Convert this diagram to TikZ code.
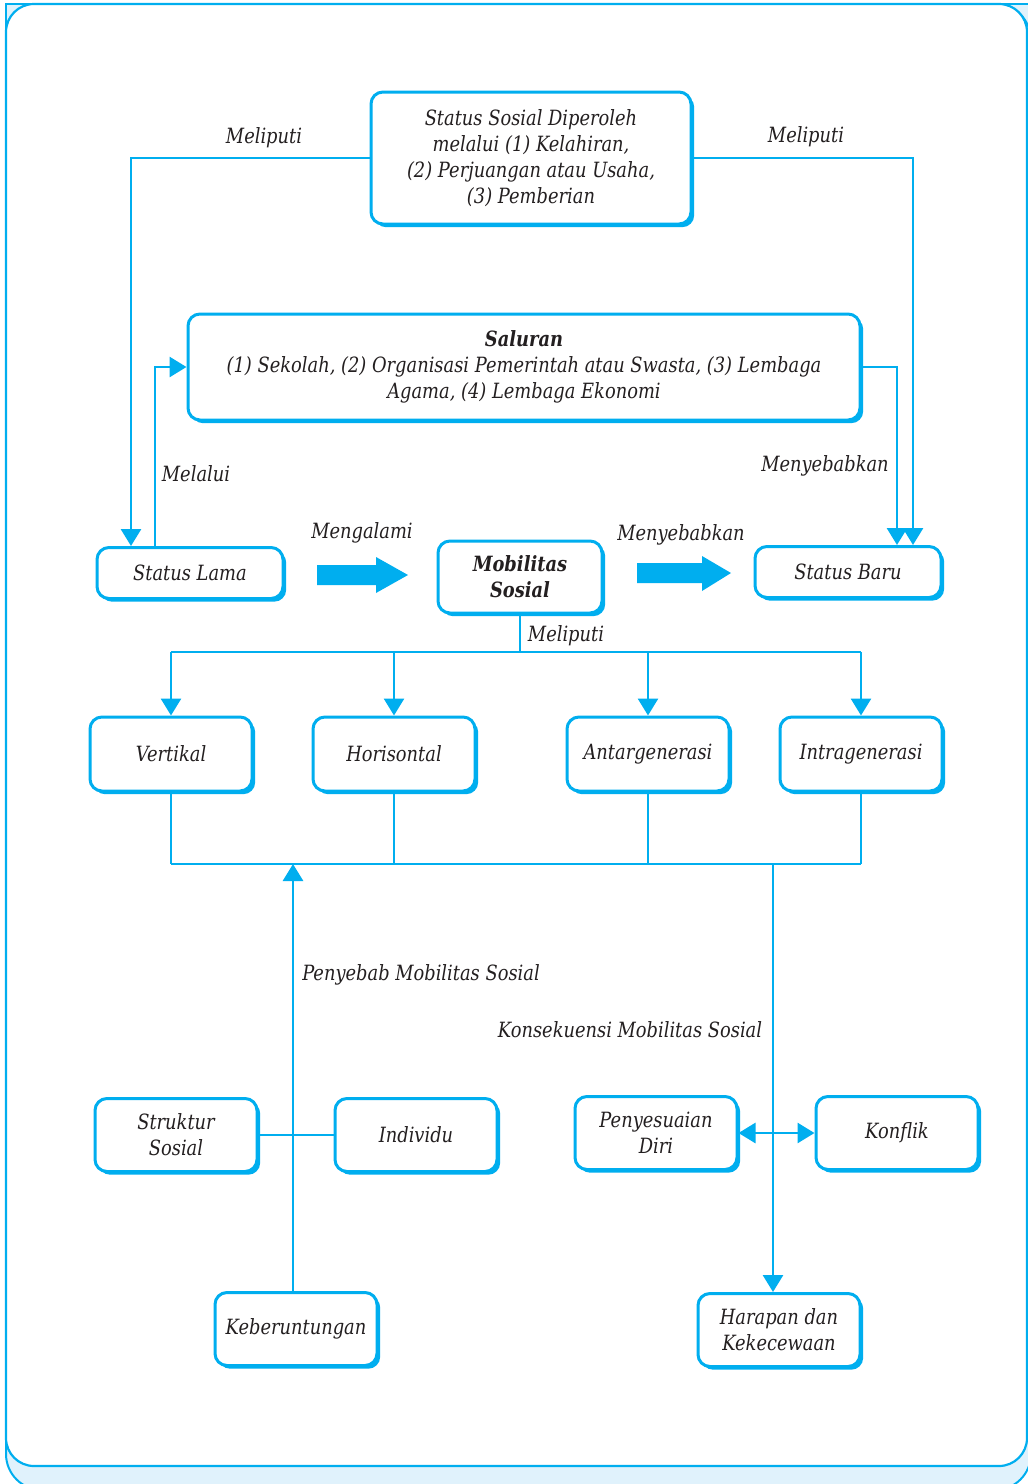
\documentclass[tikz,border=0pt]{standalone}
\usepackage{fontspec}
\setmainfont{DejaVu Serif}[FakeStretch=0.85]
\usetikzlibrary{shadows,arrows.meta}
\definecolor{sky}{RGB}{0,174,239}
\definecolor{lightsky}{RGB}{224,242,252}
\definecolor{ink}{RGB}{35,31,32}
\begin{document}
\begin{tikzpicture}[x=0.5pt,y=-0.5pt,
  txt/.style={font=\itshape\fontsize{10.5}{12.9}\selectfont, text=ink},
  box/.style={txt, draw=sky, line width=1.5pt, rounded corners=6pt, fill=white, align=center, inner sep=0pt,
     general shadow={fill=sky, shadow xshift=1.6pt, shadow yshift=-1.6pt}},
  conn/.style={draw=sky, line width=1.4pt},
  arr/.style={-{Triangle[width=10pt,length=8.5pt]}},
  dbl/.style={{Triangle[width=10pt,length=8.5pt]}-{Triangle[width=10pt,length=8.5pt]}},
  lbl/.style={txt, inner sep=0pt}
]
\useasboundingbox (0,0) rectangle (1028,1484);
% frame
\fill[lightsky] (6,4) rectangle (1031,1200);
\draw[sky, line width=1pt, fill=lightsky, rounded corners=18pt] (6,4) rectangle (1031,1490);
\fill[lightsky] (7,5) rectangle (60,60);
\draw[sky, line width=1pt] (6,1200) -- (6,4) -- (1031,4);
\draw[sky, line width=1.1pt, fill=white, rounded corners=14pt] (6,4) rectangle (1027,1466);

% nodes
\node[box, minimum width=160pt, minimum height=66pt] (src) at (531,158)
  {Status Sosial Diperoleh\\ melalui (1) Kelahiran,\\ (2) Perjuangan atau Usaha,\\ (3) Pemberian};
\node[box, minimum width=336pt, minimum height=53pt] (sal) at (524,367)
  {\textbf{Saluran}\\ (1) Sekolah, (2) Organisasi Pemerintah atau Swasta, (3) Lembaga\\ Agama, (4) Lembaga Ekonomi};
\node[box, minimum width=93pt, minimum height=25.5pt] (lama) at (190,573) {Status Lama};
\node[box, minimum width=82pt, minimum height=36pt, font=\bfseries\itshape\fontsize{10.5}{12.9}\selectfont] (mob) at (520,577) {Mobilitas\\ Sosial};
\node[box, minimum width=93pt, minimum height=25.5pt] (baru) at (848,572) {Status Baru};

\node[box, minimum width=81pt, minimum height=37pt] (vert) at (171,754) {Vertikal};
\node[box, minimum width=81pt, minimum height=37pt] (hor) at (394,754) {Horisontal};
\node[box, minimum width=81pt, minimum height=37pt] (ant) at (648,754) {Antargenerasi};
\node[box, minimum width=81pt, minimum height=37pt] (intra) at (861,754) {Intragenerasi};

\node[box, minimum width=81pt, minimum height=36.5pt] (str) at (176,1135) {Struktur\\ Sosial};
\node[box, minimum width=81pt, minimum height=36.5pt] (ind) at (416,1135) {Individu};
\node[box, minimum width=81pt, minimum height=36.5pt] (pen) at (656,1133) {Penyesuaian\\ Diri};
\node[box, minimum width=81pt, minimum height=36.5pt] (kon) at (897,1133) {Konflik};
\node[box, minimum width=81pt, minimum height=36.5pt] (keb) at (296,1329) {Keberuntungan};
\node[box, minimum width=81pt, minimum height=36.5pt] (har) at (779,1330) {Harapan dan\\ Kekecewaan};

% helper coordinates
\coordinate (xA) at (131,0);
\coordinate (xB) at (913,0);
\coordinate (xC) at (155,0);
\coordinate (xD) at (897,0);
\coordinate (xE) at (293,0);
\coordinate (xF) at (773,0);
\coordinate (yM) at (0,652);
\coordinate (yB) at (0,864);

% connectors
\draw[conn, arr] (src.west) -| (xA |- lama.north);
\draw[conn, arr] (src.east) -| (xB |- baru.north);
\draw[conn, arr] (xC |- lama.north) |- (sal.west);
\draw[conn, arr] (sal.east) -| (xD |- baru.north);

\draw[conn] (mob.south) -- (mob.south |- yM);
\draw[conn] (vert.north |- yM) -- (intra.north |- yM);
\foreach \n in {vert,hor,ant,intra} {
  \draw[conn, arr] (\n.north |- yM) -- (\n.north);
  \draw[conn] (\n.south) -- (\n.south |- yB);
}
\draw[conn] (vert.south |- yB) -- (intra.south |- yB);

\draw[conn, arr] (xE |- keb.north) -- (xE |- yB);
\draw[conn] (str.east) -- (ind.west);
\draw[conn, arr] (xF |- yB) -- (xF |- har.north);
\draw[conn, dbl] (pen.east) -- (kon.west);

% block arrows
\fill[sky] (317,565) -- (376,565) -- (376,557) -- (408,575) -- (376,593) -- (376,585) -- (317,585) -- cycle;
\fill[sky] (637,563) -- (702,563) -- (702,556) -- (731,573) -- (702,591) -- (702,583) -- (637,583) -- cycle;

% labels
\node[lbl] (l1) at (264,138) {Meliputi};
\node[lbl] (l2) at (806,137) {Meliputi};
\node[lbl] (l3) at (196,474) {Melalui};
\node[lbl] (l4) at (825,466) {Menyebabkan};
\node[lbl] (l5) at (362,533) {Mengalami};
\node[lbl] (l6) at (681,535) {Menyebabkan};
\node[lbl] (l7) at (566,636) {Meliputi};
\node[lbl] (l8) at (421,975) {Penyebab Mobilitas Sosial};
\node[lbl] (l9) at (630,1030) {Konsekuensi Mobilitas Sosial};
\end{tikzpicture}
\end{document}
